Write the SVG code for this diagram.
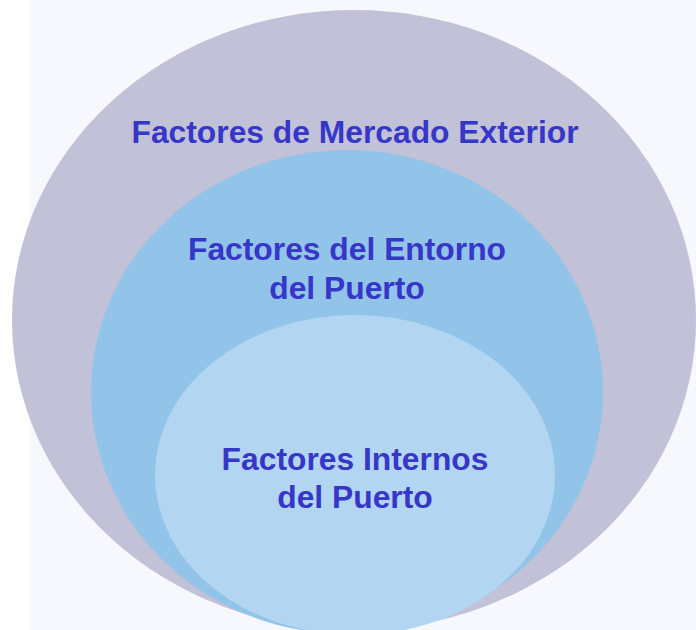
<svg xmlns="http://www.w3.org/2000/svg" width="696" height="630" viewBox="0 0 696 630">
<style>
.t{font-family:"Liberation Sans",Arial,sans-serif;font-weight:bold;font-size:31.8px;fill:#3636c9;text-anchor:middle}
</style>
<rect x="0" y="0" width="696" height="630" fill="#ffffff"/>
<rect x="30" y="0" width="666" height="630" fill="#f7f8fd"/>
<g id="outer">
<ellipse cx="354" cy="320" rx="342" ry="310" fill="#c1c1d7"/>
<text class="t" x="355" y="143">Factores de Mercado Exterior</text>
</g>
<g id="middle">
<ellipse cx="347" cy="392" rx="256" ry="242" fill="#92c3e8"/>
<text class="t" x="347" y="260">Factores del Entorno</text>
<text class="t" x="347" y="299">del Puerto</text>
</g>
<g id="inner">
<ellipse cx="355" cy="475" rx="200" ry="160" fill="#b2d5f1"/>
<text class="t" x="355" y="470">Factores Internos</text>
<text class="t" x="355" y="508">del Puerto</text>
</g>
<g id="connectors"/>
</svg>
